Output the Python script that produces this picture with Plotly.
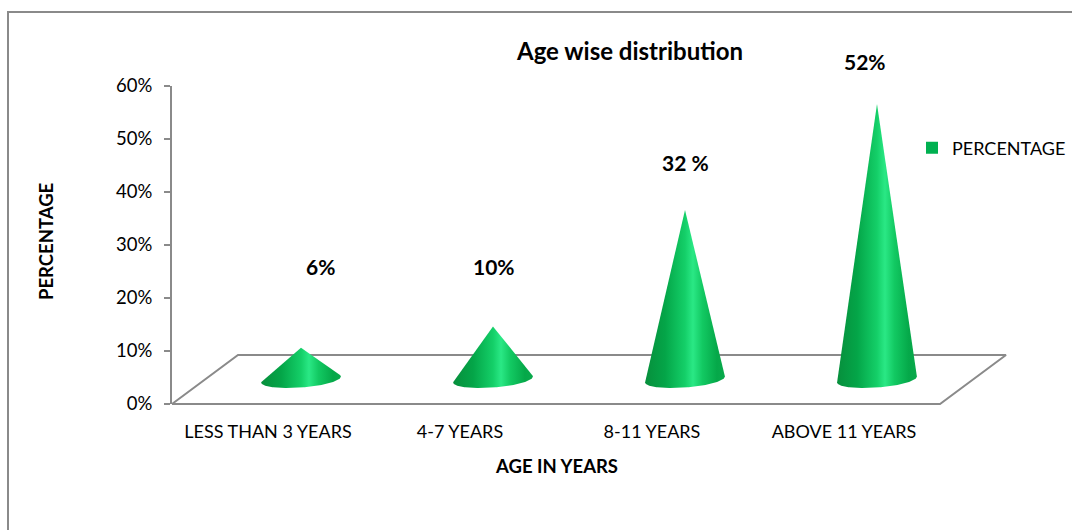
import numpy as np
import plotly.graph_objects as go

# ---------------- data ----------------
categories = ["LESS THAN 3 YEARS", "4-7 YEARS", "8-11 YEARS", "ABOVE 11 YEARS"]
percentages = [6, 10, 32, 52]
label_texts = ["6%", "10%", "32 %", "52%"]
y_ticks = [0, 10, 20, 30, 40, 50, 60]
y_tick_labels = ["0%", "10%", "20%", "30%", "40%", "50%", "60%"]
series_name = "PERCENTAGE"

# ---------------- layout geometry (pixels) ----------------
W, H = 1072, 530
PX_LEFT, PX_RIGHT = 172, 1012      # x=0 .. plot right
PX_Y0, PX_Y60 = 404, 86            # y=0% and y=60%
SX = 192.0                         # px per category
SY = (PX_Y0 - PX_Y60) / 60.0       # px per percent
DEPTH_X = 66 / SX                  # floor depth offset (category units)
DEPTH_Y = 49 / SY                  # floor depth offset (percent units)
CONE_A, CONE_B, CONE_ROT = 40.0, 8.0, np.deg2rad(4.3)

# label placement (offsets from cone centre, data units)
label_dx = [0.10, 0.005, 0.0, -0.063]
label_y = [26.0, 26.0, 45.5, 64.7]

GRAY = "#8a8a8a"
FONT = "Lato"


def hull(pts):
    pts = sorted(set(map(tuple, pts)))
    def cross(o, a, b):
        return (a[0] - o[0]) * (b[1] - o[1]) - (a[1] - o[1]) * (b[0] - o[0])
    lower, upper = [], []
    for p in pts:
        while len(lower) >= 2 and cross(lower[-2], lower[-1], p) <= 0:
            lower.pop()
        lower.append(p)
    for p in reversed(pts):
        while len(upper) >= 2 and cross(upper[-2], upper[-1], p) <= 0:
            upper.pop()
        upper.append(p)
    return lower[:-1] + upper[:-1]


fig = go.Figure()

# floor (parallelogram)
n = len(categories)
floor_x = [0, n, n + DEPTH_X, DEPTH_X, 0]
floor_y = [0, 0, DEPTH_Y, DEPTH_Y, 0]
fig.add_trace(go.Scatter(x=floor_x, y=floor_y, mode="lines",
                         line=dict(color=GRAY, width=2),
                         xaxis="x2", yaxis="y2", showlegend=False, hoverinfo="skip"))

cone_scale = [[0.0, "#078f3c"], [0.25, "#04a548"], [0.5, "#14cf68"],
              [0.6, "#2ae885"], [0.72, "#12c962"], [0.9, "#05a849"], [1.0, "#0aa94c"]]

for i, v in enumerate(percentages):
    cx = i + 0.5 + DEPTH_X / 2
    cy = DEPTH_Y / 2
    U0, V0 = cx * SX, cy * SY
    t = np.linspace(0, 2 * np.pi, 241)
    du = CONE_A * np.cos(t)
    dv = CONE_B * np.sin(t)
    eu = U0 + du * np.cos(CONE_ROT) - dv * np.sin(CONE_ROT)
    ev = V0 + du * np.sin(CONE_ROT) + dv * np.cos(CONE_ROT)
    pts = list(zip(np.round(eu, 4), np.round(ev, 4)))
    pts.append((round(U0, 4), round((cy + v) * SY, 4)))
    h = hull(pts)
    h.append(h[0])
    hx = [p[0] / SX for p in h]
    hy = [p[1] / SY for p in h]
    fig.add_trace(go.Scatter(x=hx, y=hy, mode="lines", fill="toself",
                             line=dict(width=0, color="rgba(0,0,0,0)"),
                             fillgradient=dict(type="horizontal", colorscale=cone_scale),
                             xaxis="x2", yaxis="y2", showlegend=False,
                             name=categories[i], hoverinfo="skip"))
    fig.add_annotation(x=cx + label_dx[i], y=label_y[i], xref="x2", yref="y2",
                       xanchor="center", yanchor="middle",
                       text="<b>%s</b>" % label_texts[i], showarrow=False,
                       font=dict(family=FONT, size=21, color="#000"))

# legend entry
fig.add_trace(go.Bar(x=[None], y=[None], name=series_name,
                     marker=dict(color="#00B050"), showlegend=True))

# axis domains
x2_lo, x2_hi = 150, 1040
y2_lo, y2_hi = 420, 30
fig.update_layout(
    template="none",
    width=W, height=H,
    margin=dict(l=0, r=0, t=0, b=0, pad=0, autoexpand=False),
    paper_bgcolor="white", plot_bgcolor="rgba(0,0,0,0)",
    font=dict(family=FONT, color="#000"),
    title=dict(text="<b>Age wise distribution</b>", x=630 / W, y=1 - 52 / H,
               xanchor="center", yanchor="middle", xref="paper", yref="paper",
               font=dict(family=FONT, size=24, color="#000")),
    xaxis=dict(domain=[PX_LEFT / W, PX_RIGHT / W],
               range=[0, (PX_RIGHT - PX_LEFT) / SX],
               tickvals=[i + 0.5 for i in range(n)], ticktext=categories,
               showline=False, showgrid=False, zeroline=False, ticks="",
               ticklabelstandoff=15, automargin=False,
               tickfont=dict(family=FONT, size=18, color="#000"), anchor="y"),
    yaxis=dict(domain=[1 - PX_Y0 / H, 1 - PX_Y60 / H], range=[0, 60],
               tickvals=y_ticks, ticktext=y_tick_labels,
               showline=True, linecolor=GRAY, linewidth=2,
               ticks="outside", ticklen=6, tickwidth=2, tickcolor=GRAY,
               ticklabelstandoff=8, automargin=False,
               showgrid=False, zeroline=False,
               tickfont=dict(family=FONT, size=18.5, color="#000"), anchor="x"),
    xaxis2=dict(domain=[x2_lo / W, x2_hi / W],
                range=[(x2_lo - PX_LEFT) / SX, (x2_hi - PX_LEFT) / SX],
                visible=False, anchor="y2", automargin=False),
    yaxis2=dict(domain=[1 - y2_lo / H, 1 - y2_hi / H],
                range=[(PX_Y0 - y2_lo) / SY, (PX_Y0 - y2_hi) / SY],
                visible=False, anchor="x2", automargin=False),
    legend=dict(x=912 / W, y=1 - 148 / H, xanchor="left", yanchor="middle",
                font=dict(family=FONT, size=18, color="#000"),
                bgcolor="rgba(0,0,0,0)", borderwidth=0),
    showlegend=True,
)

# outer frame
fig.add_shape(type="rect", xref="paper", yref="paper",
              x0=8 / W, x1=1.1, y0=-0.1, y1=1 - 12 / H,
              line=dict(color=GRAY, width=2), fillcolor="rgba(0,0,0,0)", layer="below")

fig.add_annotation(x=46 / W, y=1 - 242 / H, xref="paper", yref="paper",
                   xanchor="center", yanchor="middle",
                   text="<b>PERCENTAGE</b>", textangle=-90, showarrow=False,
                   font=dict(family=FONT, size=18.5, color="#000"))
fig.add_annotation(x=556 / W, y=1 - 466 / H, xref="paper", yref="paper",
                   xanchor="center", yanchor="middle",
                   text="<b>AGE IN YEARS</b>", showarrow=False,
                   font=dict(family=FONT, size=18.5, color="#000"))

fig.write_html("out.html")
